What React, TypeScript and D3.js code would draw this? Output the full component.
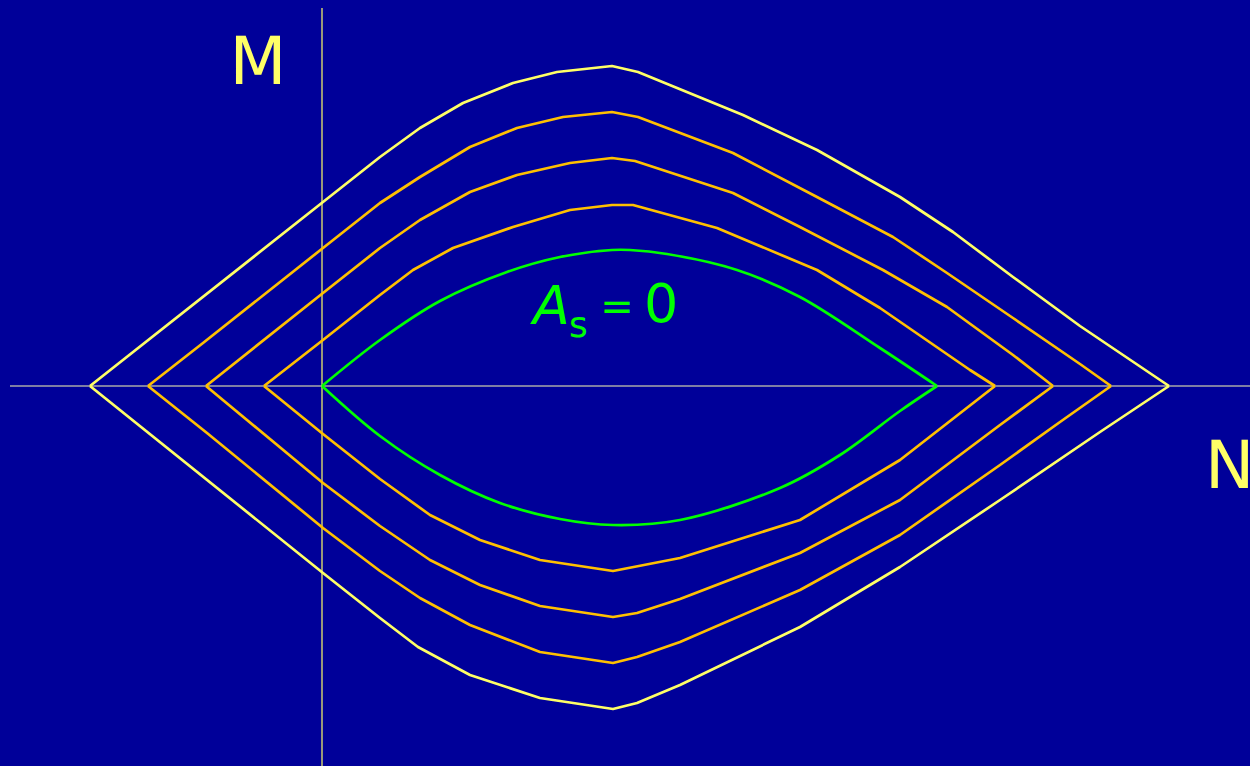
import React from "react";
import * as d3 from "d3";

// Interaction diagram: N (axial force) vs M (moment), curves for increasing As
const greenUpper: [number, number][] = [[0,0],[58,46],[118,85],[185,114],[238,129],[290,136],[308,136],[345,132],[415,116],[478,89],[558,38],[615,0]];
const greenLower: [number, number][] = [[0,0],[58,-50],[118,-89],[178,-117],[238,-133],[291,-139],[358,-134],[458,-102],[518,-69],[578,-25],[615,0]];

const c2Upper: [number, number][] = [[-58,0],[1,46],[58,91],[91,116],[131,138],[191,159],[248,176],[290,181],[311,181],[395,158],[495,116],[558,78],[648,16],[673,0]];
const c2Lower: [number, number][] = [[-58,0],[1,-48],[58,-93],[108,-129],[158,-154],[218,-174],[291,-185],[358,-172],[478,-134],[578,-74],[673,0]];

const c3Upper: [number, number][] = [[-116,0],[1,93],[58,138],[98,166],[148,194],[195,211],[248,223],[290,228],[313,225],[411,193],[478,159],[561,116],[625,79],[691,31],[731,0]];
const c3Lower: [number, number][] = [[-116,0],[1,-97],[58,-140],[108,-174],[158,-199],[218,-220],[291,-231],[315,-227],[358,-213],[478,-167],[578,-114],[678,-39],[731,0]];

const c4Upper: [number, number][] = [[-174,0],[-119,43],[1,138],[58,183],[98,209],[148,239],[195,258],[241,269],[290,274],[316,269],[411,233],[495,189],[571,149],[625,113],[691,68],[758,22],[789,0]];
const c4Lower: [number, number][] = [[-174,0],[-115,-47],[1,-142],[58,-185],[98,-212],[148,-239],[218,-266],[291,-277],[315,-271],[358,-256],[478,-204],[578,-149],[678,-79],[738,-36],[789,0]];

const c5Upper: [number, number][] = [[-232,0],[1,184],[58,229],[98,258],[141,283],[191,303],[235,314],[290,320],[316,314],[421,271],[495,236],[578,189],[631,154],[691,109],[758,60],[847,0]];
const c5Lower: [number, number][] = [[-232,0],[1,-187],[58,-232],[96,-261],[148,-289],[218,-312],[291,-323],[315,-317],[358,-299],[478,-241],[578,-181],[678,-114],[778,-46],[847,0]];

const W = 1250;
const H = 766;

export default function App() {
  const x = d3.scaleLinear().domain([-322, 928]).range([0, W]);
  const y = d3.scaleLinear().domain([386, -380]).range([0, H]);

  const lin = d3.line<[number, number]>().x((d) => x(d[0])).y((d) => y(d[1])).curve(d3.curveLinear);
  const smooth = d3.line<[number, number]>().x((d) => x(d[0])).y((d) => y(d[1])).curve(d3.curveCatmullRom);

  const curves = [
    { u: c5Upper, l: c5Lower, color: "#ffff66", gen: lin },
    { u: c4Upper, l: c4Lower, color: "#ffc000", gen: lin },
    { u: c3Upper, l: c3Lower, color: "#ffc000", gen: lin },
    { u: c2Upper, l: c2Lower, color: "#ffc000", gen: lin },
    { u: greenUpper, l: greenLower, color: "#00ff00", gen: smooth },
  ];

  const font = "'Comic Sans MS', 'DejaVu Sans', sans-serif";

  return (
    <svg
      width={W}
      height={H}
      style={{ position: "absolute", left: 0, top: 0, display: "block", background: "#000099" }}
    >
      <rect x={0} y={0} width={W} height={H} fill="#000099" />
      <line x1={x(-312)} x2={x(928)} y1={y(0)} y2={y(0)} stroke="#a8a8a8" strokeWidth={1.3} />
      <line x1={x(0)} x2={x(0)} y1={y(378)} y2={y(-380)} stroke="#ffff66" strokeWidth={1.2} />
      {curves.map((c, i) => (
        <g key={i}>
          <path d={c.gen(c.u) || ""} fill="none" stroke={c.color} strokeWidth={2.7} strokeLinejoin="round" />
          <path d={c.gen(c.l) || ""} fill="none" stroke={c.color} strokeWidth={2.7} strokeLinejoin="round" />
        </g>
      ))}
      <text x={258} y={84} fill="#ffff66" fontFamily={font} fontSize={66} textAnchor="middle">M</text>
      <text x={1205} y={488} fill="#ffff66" fontFamily={font} fontSize={66}>N</text>
      <g fill="#00ff00" fontFamily={font}>
        <text x={533} y={324} fontSize={54} fontStyle="italic">A</text>
        <text x={569} y={337} fontSize={36}>s</text>
        <text x={617} y={320} fontSize={40} textAnchor="middle">=</text>
        <text x={644} y={322} fontSize={54}>0</text>
      </g>
    </svg>
  );
}
